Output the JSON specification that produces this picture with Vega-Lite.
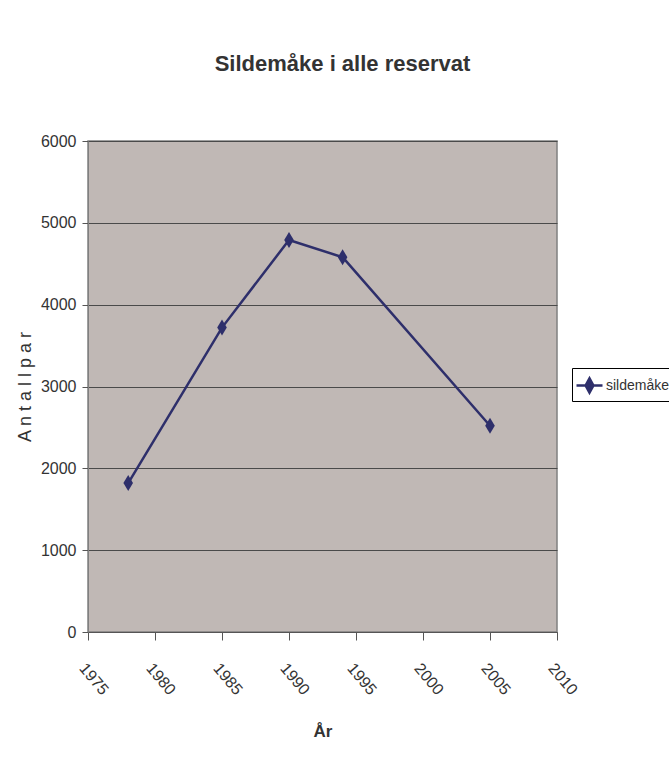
{
  "$schema": "https://vega.github.io/schema/vega-lite/v6.json",
  "width": 469,
  "height": 491,
  "autosize": {"type": "none"},
  "padding": {"left": 88, "top": 141, "right": 112, "bottom": 134},
  "background": "white",
  "title": {
    "text": "Sildemåke i alle reservat",
    "font": "Liberation Sans",
    "fontSize": 22,
    "fontWeight": "bold",
    "color": "#333333",
    "anchor": "middle",
    "dx": 20,
    "offset": 57
  },
  "config": {
    "view": {"fill": "#C0B8B5", "stroke": "#808080", "strokeWidth": 1.5},
    "font": "Liberation Sans"
  },
  "data": {
    "values": [
      {"year": 1978, "antall": 1820, "serie": "sildemåke"},
      {"year": 1985, "antall": 3720, "serie": "sildemåke"},
      {"year": 1990, "antall": 4790, "serie": "sildemåke"},
      {"year": 1994, "antall": 4580, "serie": "sildemåke"},
      {"year": 2005, "antall": 2520, "serie": "sildemåke"}
    ]
  },
  "encoding": {
    "x": {
      "field": "year",
      "type": "quantitative",
      "scale": {"domain": [1975, 2010], "nice": false, "zero": false},
      "axis": {
        "values": [1975, 1980, 1985, 1990, 1995, 2000, 2005, 2010],
        "format": "d",
        "labelAngle": 50,
        "labelAlign": "left",
        "labelBaseline": "top",
        "labelFont": "Liberation Sans",
        "labelFontSize": 16,
        "labelColor": "#333333",
        "labelPadding": 20,
        "labelOverlap": false,
        "labelFlush": false,
        "tickSize": 8,
        "tickColor": "#555555",
        "domainColor": "#555555",
        "grid": false,
        "title": "År",
        "titleFont": "Liberation Sans",
        "titleFontSize": 17,
        "titleFontWeight": "bold",
        "titleColor": "#333333",
        "titlePadding": 26
      }
    },
    "y": {
      "field": "antall",
      "type": "quantitative",
      "scale": {"domain": [0, 6000], "nice": false},
      "axis": {
        "values": [0, 1000, 2000, 3000, 4000, 5000, 6000],
        "format": "d",
        "labelFont": "Liberation Sans",
        "labelFontSize": 16,
        "labelColor": "#333333",
        "labelPadding": 6,
        "tickSize": 6,
        "tickColor": "#555555",
        "domainColor": "#808080",
        "grid": true,
        "gridColor": "#4a4a4a",
        "gridWidth": 1,
        "title": "A n t a l l  p a r",
        "titleFont": "Liberation Sans",
        "titleFontSize": 18,
        "titleFontWeight": "normal",
        "titleColor": "#333333",
        "titlePadding": 6
      }
    },
    "color": {
      "field": "serie",
      "type": "nominal",
      "scale": {"range": ["#2E2F6B"]},
      "legend": {
        "title": null,
        "orient": "none",
        "legendX": 484,
        "legendY": 227,
        "strokeColor": "#000000",
        "fillColor": "#ffffff",
        "padding": 3,
        "symbolType": "M-1,0H1M0,-0.55L0.3,0L0,0.55L-0.3,0Z",
        "symbolSize": 676,
        "symbolStrokeWidth": 2.5,
        "symbolFillColor": "#2E2F6B",
        "symbolStrokeColor": "#2E2F6B",
        "labelFont": "Liberation Sans",
        "labelFontSize": 14,
        "labelColor": "#333333",
        "labelOffset": 2
      }
    }
  },
  "layer": [
    {"mark": {"type": "line", "strokeWidth": 2.5}},
    {
      "mark": {
        "type": "point",
        "shape": "M0,-1L0.6,0L0,1L-0.6,0Z",
        "size": 256,
        "filled": true,
        "opacity": 1
      }
    }
  ]
}
